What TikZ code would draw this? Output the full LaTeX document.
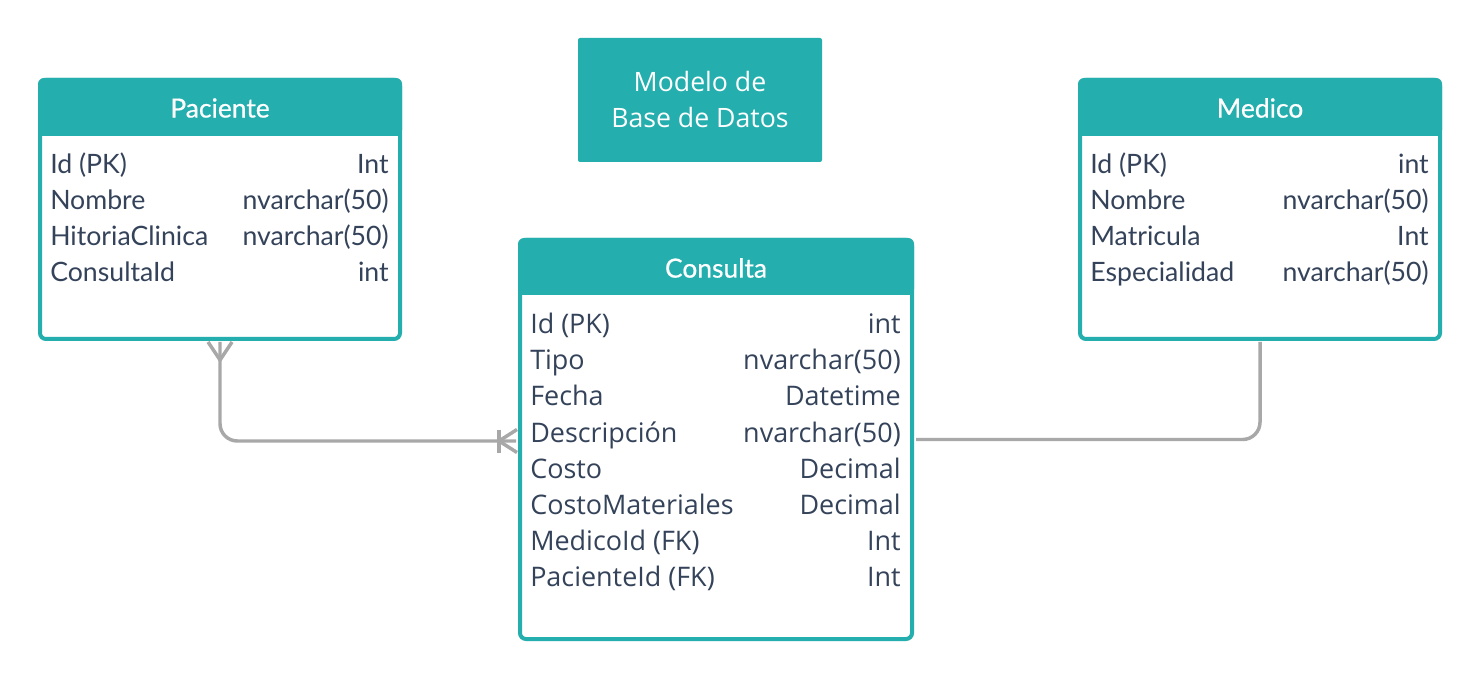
\documentclass[tikz,border=0pt]{standalone}
\usepackage{fontspec}
\setmainfont{Lato}
\newfontfamily\osans{Open Sans}
\newfontfamily\hdfont[BoldFont=Lato, BoldFeatures={FakeBold=0.6}]{Lato}
\usetikzlibrary{calc}
\definecolor{teal1}{HTML}{24AEAE}
\definecolor{ink}{HTML}{34435A}
\definecolor{connc}{HTML}{A8A8A8}
\begin{document}
\begin{tikzpicture}[x=0.75pt,y=-0.75pt,
  tbl/.style={draw=teal1, line width=3pt, fill=white, rounded corners=4.5pt, inner sep=0pt, minimum width=270pt, minimum height=194.25pt},
  hdrtext/.style={text=white, inner sep=0pt, font=\hdfont\bfseries\fontsize{19.8}{23}\selectfont},
  fld/.style={text=ink, inner sep=0pt, anchor=base west, font=\fontsize{20}{23}\selectfont},
  typ/.style={text=ink, inner sep=0pt, anchor=base east, font=\fontsize{20}{23}\selectfont},
  cfld/.style={text=ink, inner sep=0pt, anchor=base west, font=\osans\fontsize{20.2}{23}\selectfont},
  ctyp/.style={text=ink, inner sep=0pt, anchor=base east, font=\osans\fontsize{20.2}{23}\selectfont},
  titlebox/.style={fill=teal1, text=white, align=center, rounded corners=1.5pt, minimum width=183pt, minimum height=93pt, inner sep=0pt, font=\osans\fontsize{20}{27}\selectfont},
  link/.style={draw=connc, line width=2.6pt, rounded corners=13pt},
  foot/.style={draw=connc, line width=2.6pt}
]
\useasboundingbox (0,0) rectangle (1480,680);
\fill[white] (0,0) rectangle (1480,680);

% title
\node[titlebox] (ttl) at (700,100) {Modelo de\\Base de Datos};

% tables
\node[tbl] (pac) at (220,209.5) {};
\node[tbl] (med) at (1260,209.5) {};
\node[tbl, minimum width=294pt, minimum height=299.25pt] (con) at (716,439.5) {};

% headers
\foreach \t/\h in {pac/58, med/58, con/57}{
  \fill[teal1, rounded corners=4.5pt] (\t.north west) rectangle ($(\t.north east)+(0,\h)$);
  \fill[teal1] ($(\t.north west)+(0,30)$) rectangle ($(\t.north east)+(0,\h)$);
}
\node[hdrtext] (pach) at (220,108) {Paciente};
\node[hdrtext] (medh) at (1260,108) {Medico};
\node[hdrtext] (conh) at (716,268) {Consulta};

% Paciente fields
\node[fld] (p1) at (50,174) {Id (PK)};
\node[fld] (p2) at (50,210) {Nombre};
\node[fld] (p3) at (50,246) {HitoriaClinica};
\node[fld] (p4) at (50,282) {ConsultaId};
\node[typ] (pt1) at (389,174) {Int};
\node[typ] (pt2) at (389,210) {nvarchar(50)};
\node[typ] (pt3) at (389,246) {nvarchar(50)};
\node[typ] (pt4) at (389,282) {int};

% Medico fields
\node[fld] (m1) at (1090,174) {Id (PK)};
\node[fld] (m2) at (1090,210) {Nombre};
\node[fld] (m3) at (1090,246) {Matricula};
\node[fld] (m4) at (1090,282) {Especialidad};
\node[typ] (mt1) at (1429,174) {int};
\node[typ] (mt2) at (1429,210) {nvarchar(50)};
\node[typ] (mt3) at (1429,246) {Int};
\node[typ] (mt4) at (1429,282) {nvarchar(50)};

% Consulta fields
\node[cfld] (c1) at (530,334) {Id (PK)};
\node[cfld] (c2) at (530,370) {Tipo};
\node[cfld] (c3) at (530,406) {Fecha};
\node[cfld] (c4) at (530,442) {Descripción};
\node[cfld] (c5) at (530,478) {Costo};
\node[cfld] (c6) at (530,514) {CostoMateriales};
\node[cfld] (c7) at (530,550) {MedicoId (FK)};
\node[cfld] (c8) at (530,586) {PacienteId (FK)};
\node[ctyp] (ct1) at (901,334) {int};
\node[ctyp] (ct2) at (901,370) {nvarchar(50)};
\node[ctyp] (ct3) at (901,406) {Datetime};
\node[ctyp] (ct4) at (901,442) {nvarchar(50)};
\node[ctyp] (ct5) at (901,478) {Decimal};
\node[ctyp] (ct6) at (901,514) {Decimal};
\node[ctyp] (ct7) at (901,550) {Int};
\node[ctyp] (ct8) at (901,586) {Int};

% connectors
\draw[link] ($(pac.south)+(0,1)$) |- ($(con.west)+(-2,1.5)$);
\draw[link] ($(med.south)+(0,1)$) |- ($(con.east)+(2,0)$);

% crow's foot at Paciente
\draw[foot] ($(pac.south)+(-12,1)$) -- ($(pac.south)+(0,19)$) -- ($(pac.south)+(12,1)$);
% crow's foot and bar at Consulta
\draw[foot] ($(con.west)+(-1,-10)$) -- ($(con.west)+(-19,1.5)$) -- ($(con.west)+(-1,13)$);
\draw[foot] ($(con.west)+(-19,-10)$) -- ($(con.west)+(-19,13)$);
\end{tikzpicture}
\end{document}
